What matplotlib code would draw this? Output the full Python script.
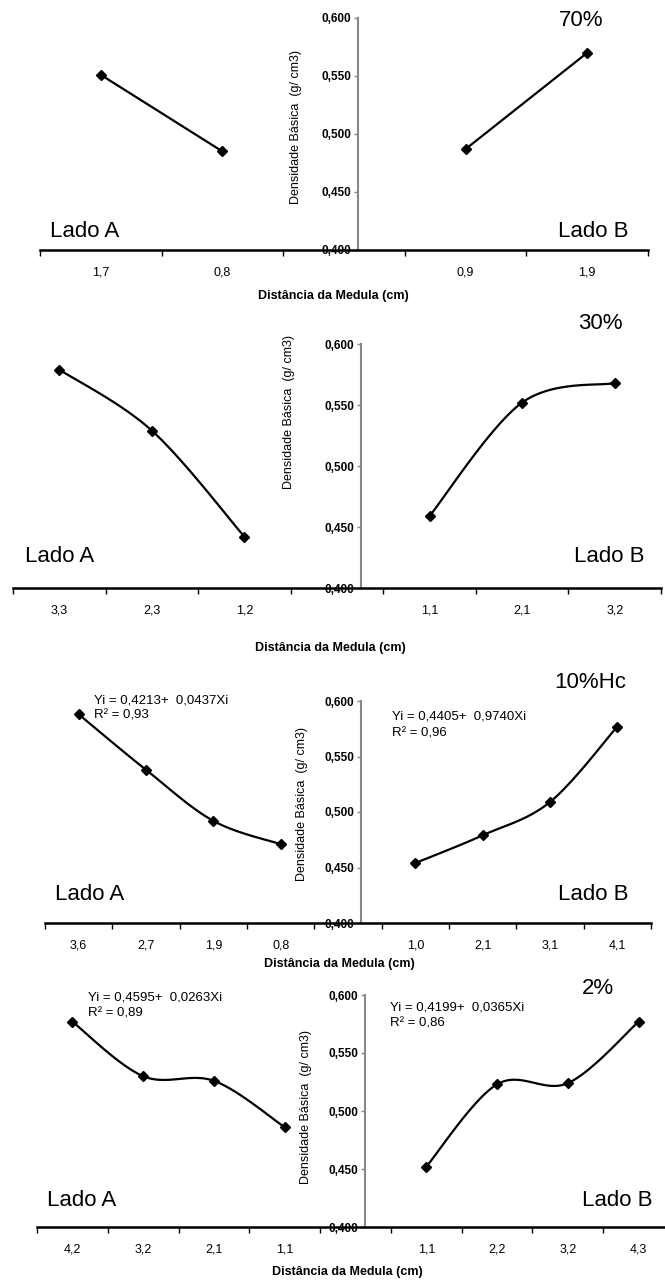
import matplotlib
matplotlib.use('Agg')
import matplotlib.pyplot as plt
import numpy as np

plt.rcParams['font.family'] = ['Liberation Sans', 'DejaVu Sans']

W, H = 665, 1281

# --- data (Distância da Medula categories, '' = gap at the medulla) ---
p1_cats = ['1,7', '0,8', '', '0,9', '1,9']
p1_a = [0.551, 0.485]
p1_b = [0.487, 0.570]

p2_cats = ['3,3', '2,3', '1,2', '', '1,1', '2,1', '3,2']
p2_a = [0.579, 0.529, 0.442]
p2_b = [0.459, 0.552, 0.568]

p3_cats = ['3,6', '2,7', '1,9', '0,8', '', '1,0', '2,1', '3,1', '4,1']
p3_a = [0.588, 0.538, 0.492, 0.471]
p3_b = [0.454, 0.479, 0.509, 0.577]

p4_cats = ['4,2', '3,2', '2,1', '1,1', '', '1,1', '2,2', '3,2', '4,3']
p4_a = [0.577, 0.530, 0.526, 0.486]
p4_b = [0.452, 0.523, 0.524, 0.577]

titles = ['70%', '30%', '10%Hc', '2%']
yticks = [0.400, 0.450, 0.500, 0.550, 0.600]


def smooth(xs, ys, n=40):
    # Excel-style smoothed line (Catmull-Rom as cubic Bezier)
    pts = np.column_stack([xs, ys]).astype(float)
    if len(pts) < 3:
        return pts[:, 0], pts[:, 1]
    segs = []
    t = np.linspace(0, 1, n)[:, None]
    for i in range(len(pts) - 1):
        p0 = pts[max(i - 1, 0)]
        p1 = pts[i]
        p2 = pts[i + 1]
        p3 = pts[min(i + 2, len(pts) - 1)]
        c1 = p1 + (p2 - p0) / 6
        c2 = p2 - (p3 - p1) / 6
        segs.append((1 - t) ** 3 * p1 + 3 * (1 - t) ** 2 * t * c1
                    + 3 * (1 - t) * t ** 2 * c2 + t ** 3 * p2)
    s = np.vstack(segs)
    return s[:, 0], s[:, 1]


def fx(x):
    return x / W


def fy(y):
    return 1 - y / H


fig = plt.figure(figsize=(6.65, 12.81), dpi=100)

# layout in pixels: left, right, y of 0.400, y of 0.600, x of value axis
panels = [
    dict(cats=p1_cats, a=p1_a, b=p1_b, box=(40, 648, 250, 18), yax=358,
         lado=(50, 628, 237), title_xy=(581, 20), xlab_xy=(333, 296), ylab_xy=(296, 127)),
    dict(cats=p2_cats, a=p2_a, b=p2_b, box=(13, 661, 588, 344), yax=361,
         lado=(25, 645, 562), title_xy=(600, 323), xlab_xy=(330, 648), ylab_xy=(289, 412)),
    dict(cats=p3_cats, a=p3_a, b=p3_b, box=(45, 651, 923, 701), yax=361,
         lado=(55, 628, 900), title_xy=(590, 683), xlab_xy=(339, 964), ylab_xy=(302, 804),
         eqs=[('Yi = 0,4213+  0,0437Xi', 'R² = 0,93', 94, 700),
              ('Yi = 0,4405+  0,9740Xi', 'R² = 0,96', 392, 717)]),
    dict(cats=p4_cats, a=p4_a, b=p4_b, box=(37, 674, 1227, 995), yax=365,
         lado=(47, 653, 1206), title_xy=(598, 988), xlab_xy=(347, 1272), ylab_xy=(306, 1107),
         eqs=[('Yi = 0,4595+  0,0263Xi', 'R² = 0,89', 88, 998),
              ('Yi = 0,4199+  0,0365Xi', 'R² = 0,86', 390, 1007)]),
]

for i, p in enumerate(panels):
    l, r, yb, yt = p['box']
    ax = fig.add_axes([fx(l), fy(yb), fx(r - l), (yb - yt) / H])
    ax.patch.set_visible(False)
    n = len(p['cats'])
    ax.set_xlim(-0.5, n - 0.5)
    ax.set_ylim(0.400, 0.600)

    # series: left side and right side of the medulla
    gap = p['cats'].index('')
    xa = np.arange(gap)
    xb = np.arange(gap + 1, n)
    for xs, ys in ((xa, p['a']), (xb, p['b'])):
        sx, sy = smooth(xs, ys)
        ax.plot(sx, sy, color='black', lw=1.6, solid_capstyle='round', clip_on=False)
        ax.plot(xs, ys, linestyle='none', marker='D', ms=5, color='black', clip_on=False)

    # category axis
    for s in ('top', 'right'):
        ax.spines[s].set_visible(False)
    ax.spines['bottom'].set_linewidth(1.8)
    ax.spines['bottom'].set_color('black')
    ax.set_xticks(np.arange(n + 1) - 0.5)
    ax.set_xticklabels([])
    ax.tick_params(axis='x', which='major', direction='out', length=4, width=1, color='black')
    ax.set_xticks(np.arange(n), minor=True)
    ax.set_xticklabels(p['cats'], minor=True, fontsize=9)
    ax.tick_params(axis='x', which='minor', length=0, pad=12)

    # value axis sitting at the medulla
    xpos = -0.5 + (p['yax'] - l) / (r - l) * n
    ax.spines['left'].set_position(('data', xpos))
    ax.spines['left'].set_color('#888888')
    ax.spines['left'].set_linewidth(1.5)
    ax.set_yticks(yticks)
    ax.set_yticklabels([('%.3f' % v).replace('.', ',') for v in yticks],
                       fontsize=8.5, fontweight='bold')
    ax.tick_params(axis='y', direction='out', length=3, width=1, color='#888888', pad=2)

    fig.text(fx(p['ylab_xy'][0]), fy(p['ylab_xy'][1]), 'Densidade Básica  (g/ cm3)',
             rotation=90, ha='center', va='center', fontsize=9)
    fig.text(fx(p['xlab_xy'][0]), fy(p['xlab_xy'][1]), 'Distância da Medula (cm)',
             ha='center', va='center', fontsize=9, fontweight='bold')

    la, lb, ly = p['lado']
    fig.text(fx(la), fy(ly), 'Lado A', ha='left', va='baseline', fontsize=16)
    fig.text(fx(lb), fy(ly), 'Lado B', ha='right', va='baseline', fontsize=16)
    fig.text(fx(p['title_xy'][0]), fy(p['title_xy'][1]), titles[i],
             ha='center', va='center', fontsize=16)

    for eq, r2, ex, ey in p.get('eqs', []):
        fig.text(fx(ex), fy(ey), eq, ha='left', va='center', fontsize=9.5)
        fig.text(fx(ex), fy(ey + 16), r2, ha='left', va='center', fontsize=9.5)

fig.savefig('out.png', dpi=100)
